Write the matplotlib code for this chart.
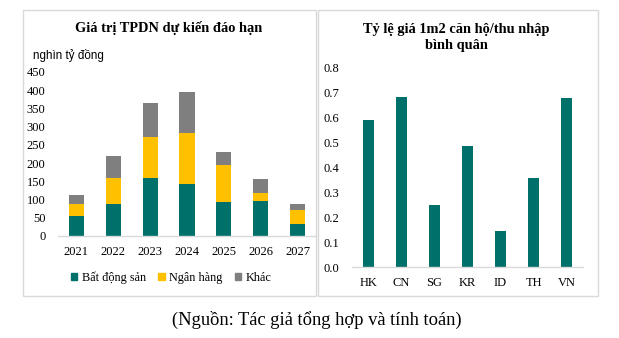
import matplotlib.pyplot as plt
from matplotlib.patches import Patch, Rectangle

# Trái phiếu doanh nghiệp đáo hạn theo năm (nghìn tỷ đồng)
years = ["2021", "2022", "2023", "2024", "2025", "2026", "2027"]
bat_dong_san = [55, 88, 159, 143, 93, 96, 33]
ngan_hang = [33, 71, 113, 140, 102, 22, 38]
khac = [25, 61, 93, 112, 36, 38, 17]

# Tỷ lệ giá 1m2 căn hộ / thu nhập bình quân
countries = ["HK", "CN", "SG", "KR", "ID", "TH", "VN"]
ratio = [0.59, 0.685, 0.25, 0.485, 0.145, 0.358, 0.68]

TEAL = "#00706b"
YELLOW = "#ffc000"
GREY = "#7f7f7f"
AXIS = "#d9d9d9"
SERIF = "Liberation Serif"

W, H = 619, 338
fig = plt.figure(figsize=(W / 100, H / 100), dpi=100)


def px_axes(x0, y0, x1, y1):
    # axes from pixel box (top-left origin)
    return fig.add_axes([x0 / W, 1 - y1 / H, (x1 - x0) / W, (y1 - y0) / H])


def panel(x0, y0, x1, y1):
    fig.patches.append(Rectangle((x0 / W, 1 - y1 / H), (x1 - x0) / W, (y1 - y0) / H,
                                 transform=fig.transFigure, fill=False,
                                 edgecolor=AXIS, lw=1.0))


def style(ax):
    for side in ("top", "right", "left"):
        ax.spines[side].set_visible(False)
    ax.spines["bottom"].set_color(AXIS)
    ax.spines["bottom"].set_linewidth(1.0)
    ax.tick_params(length=0, labelsize=9, pad=7)
    for lab in ax.get_xticklabels() + ax.get_yticklabels():
        lab.set_fontfamily(SERIF)
        lab.set_color("black")


panel(23, 10, 316, 296)
panel(318, 10, 598, 296)

# left chart: stacked bars
ax1 = px_axes(58, 72, 316, 236)
x = range(len(years))
bw = 0.41
ax1.bar(x, bat_dong_san, bw, color=TEAL)
ax1.bar(x, ngan_hang, bw, bottom=bat_dong_san, color=YELLOW)
base = [a + b for a, b in zip(bat_dong_san, ngan_hang)]
ax1.bar(x, khac, bw, bottom=base, color=GREY)
ax1.set_xlim(-0.5, 6.5)
ax1.set_ylim(0, 450)
ax1.set_yticks(range(0, 451, 50))
ax1.set_xticks(list(x))
ax1.set_xticklabels(years)
style(ax1)
ax1.tick_params(axis="y", pad=9)

fig.text(169 / W, 1 - 28 / H, "Giá trị TPDN dự kiến đáo hạn", ha="center", va="center",
         fontsize=10.4, fontweight="bold", family=SERIF)
fig.text(33 / W, 1 - 55 / H, "nghìn tỷ đồng", ha="left", va="center",
         fontsize=8.4, family="Liberation Sans")

handles = [Patch(color=TEAL, label="Bất động sản"),
           Patch(color=YELLOW, label="Ngân hàng"),
           Patch(color=GREY, label="Khác")]
fig.legend(handles=handles, loc="center", bbox_to_anchor=(171.5 / W, 1 - 278 / H),
           ncol=3, frameon=False, handlelength=0.5, handleheight=0.5,
           handletextpad=0.4, columnspacing=1.0, borderpad=0,
           prop={"family": SERIF, "size": 8.8})

# right chart
ax2 = px_axes(352, 68, 583, 267)
ax2.bar(range(len(countries)), ratio, 0.33, color=TEAL)
ax2.set_xlim(-0.5, 6.5)
ax2.set_ylim(0, 0.8)
ax2.set_yticks([i / 10 for i in range(9)])
ax2.set_yticklabels([f"{i / 10:.1f}" for i in range(9)])
ax2.set_xticks(range(len(countries)))
ax2.set_xticklabels(countries)
style(ax2)
ax2.tick_params(axis="y", pad=9)

fig.text(456 / W, 1 - 38 / H, "Tỷ lệ giá 1m2 căn hộ/thu nhập\nbình quân", ha="center",
         va="center", fontsize=10.4, fontweight="bold", family=SERIF, linespacing=1.3)

fig.text(317 / W, 1 - 320 / H, "(Nguồn: Tác giả tổng hợp và tính toán)", ha="center",
         va="center", fontsize=13.3, family=SERIF)

fig.savefig("out.png", dpi=100)
